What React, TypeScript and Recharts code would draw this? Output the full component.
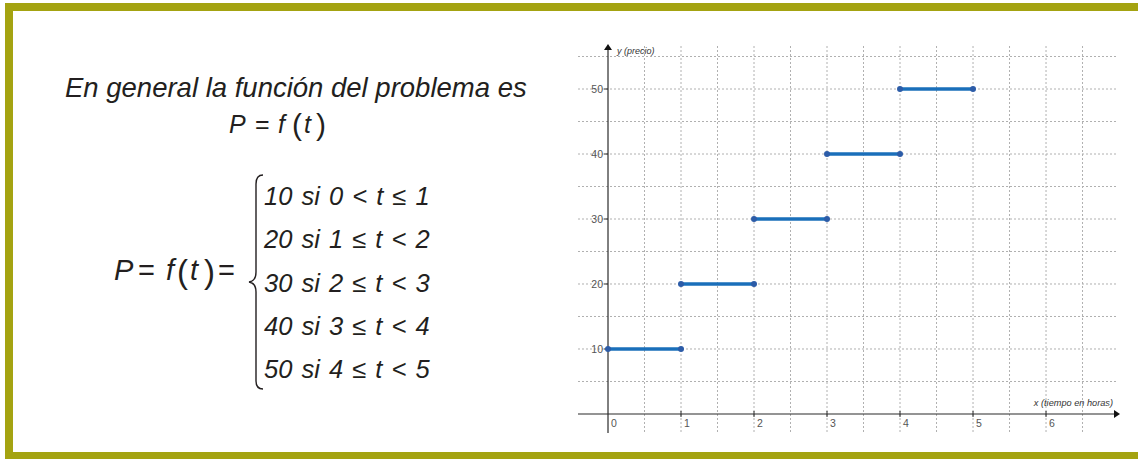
import { ComposedChart, Line, XAxis, YAxis, ReferenceLine, ReferenceDot } from 'recharts';

// piecewise price function P = f(t)
const stepStarts = [0, 1, 2, 3, 4];
const stepEnds = [1, 2, 3, 4, 5];
const prices = [10, 20, 30, 40, 50];

const hourTicks = [0, 1, 2, 3, 4, 5, 6];
const priceTicks = [10, 20, 30, 40, 50];
const gridHours = [0.5, 1, 1.5, 2, 2.5, 3, 3.5, 4, 4.5, 5, 5.5, 6, 6.5];
const gridPrices = [5, 10, 15, 20, 25, 30, 35, 40, 45, 50, 55];

const caseRows = [
  '10 si 0 < t ≤ 1',
  '20 si 1 ≤ t < 2',
  '30 si 2 ≤ t < 3',
  '40 si 3 ≤ t < 4',
  '50 si 4 ≤ t < 5',
];

const OLIVE = '#a4a311';
const INK = '#231f20';
const AXIS = '#2b2b2b';
const GRID = '#b0b0b0';
const SEG = '#1a6fba';
const DOT = '#2c5ca8';
const FONT = '"Liberation Sans", Arial, sans-serif';

const segments = prices.map((p, i) => ({
  key: `s${i}`,
  data: [
    { t: stepStarts[i], p },
    { t: stepEnds[i], p },
  ],
}));

const VerticalAxis = (props: any) => {
  const { x1, y1, y2 } = props;
  const top = Math.min(y1, y2);
  const bottom = Math.max(y1, y2);
  return (
    <g>
      <line x1={x1} y1={top + 4} x2={x1} y2={bottom + 1} stroke={AXIS} strokeWidth={1.2} />
      <polygon points={`${x1 - 4},${top + 5} ${x1 + 4},${top + 5} ${x1},${top - 1}`} fill="#111" />
      <text x={x1 + 9} y={top + 9} fontSize={9} fontStyle="italic" fill="#333" fontFamily={FONT}>
        y (precio)
      </text>
    </g>
  );
};

const HorizontalAxis = (props: any) => {
  const { x1, x2, y1 } = props;
  const left = Math.min(x1, x2);
  const right = Math.max(x1, x2);
  return (
    <g>
      <line x1={left} y1={y1} x2={right - 3} y2={y1} stroke={AXIS} strokeWidth={1.2} />
      <polygon points={`${right - 4},${y1 - 4} ${right - 4},${y1 + 4} ${right + 2},${y1}`} fill="#111" />
      <text x={right - 5} y={y1 - 8} fontSize={9.2} fontStyle="italic" fill="#333" textAnchor="end" fontFamily={FONT}>
        x (tiempo en horas)
      </text>
    </g>
  );
};

const hourMark = (h: number) => (props: any) => {
  const { cx, cy } = props;
  return (
    <g>
      {h !== 0 && <line x1={cx} y1={cy - 3} x2={cx} y2={cy + 3} stroke={AXIS} strokeWidth={1} />}
      <text x={cx + 3} y={cy + 13} fontSize={10.5} fill="#555" fontFamily={FONT}>
        {h}
      </text>
    </g>
  );
};

const priceMark = (v: number) => (props: any) => {
  const { cx, cy } = props;
  return (
    <g>
      <line x1={cx - 4} y1={cy} x2={cx} y2={cy} stroke={AXIS} strokeWidth={1} />
      <text x={cx - 5} y={cy + 4} fontSize={10.5} fill="#555" textAnchor="end" fontFamily={FONT}>
        {v}
      </text>
    </g>
  );
};

function Explanation() {
  const rowBase = [205, 248.3, 291.7, 335, 378.3];
  return (
    <svg width={560} height={459} style={{ position: 'absolute', left: 0, top: 0 }} fontFamily={FONT} fill={INK}>
      <text x={65} y={97} fontSize={27.5} fontStyle="italic">
        En general la función del problema es
      </text>

      <g fontSize={25}>
        <text x={229} y={133} fontStyle="italic">P</text>
        <text x={255} y={133}>=</text>
        <text x={278} y={133} fontStyle="italic">f</text>
        <text x={292} y={135} fontSize={30}>(</text>
        <text x={304} y={133} fontStyle="italic">t</text>
        <text x={316} y={135} fontSize={30}>)</text>
      </g>

      <g fontSize={29}>
        <text x={114} y={280} fontStyle="italic">P</text>
        <text x={138} y={280}>=</text>
        <text x={166} y={280} fontStyle="italic">f</text>
        <text x={177} y={283} fontSize={33}>(</text>
        <text x={190} y={280} fontStyle="italic">t</text>
        <text x={204} y={283} fontSize={33}>)</text>
        <text x={218} y={280}>=</text>
      </g>

      <path
        d="M 263 175 Q 256 175 256 184 L 256 272 Q 256 281 249 282 Q 256 283 256 292 L 256 381 Q 256 389 263 389"
        fill="none"
        stroke={INK}
        strokeWidth={1.4}
      />

      {caseRows.map((r, i) => (
        <text key={r} x={264} y={rowBase[i]} fontSize={25.5} fontStyle="italic" wordSpacing={2} style={{ whiteSpace: 'pre' }}>
          {r}
        </text>
      ))}
    </svg>
  );
}

export default function App() {
  return (
    <div style={{ position: 'absolute', left: 0, top: 0, width: 1138, height: 459, background: '#fff', overflow: 'hidden' }}>
      <div style={{ position: 'absolute', left: 5, top: 3, width: 1133, height: 8, background: OLIVE }} />
      <div style={{ position: 'absolute', left: 5, top: 3, width: 7.5, height: 456, background: OLIVE }} />
      <div style={{ position: 'absolute', left: 5, top: 452, width: 1133, height: 7, background: OLIVE }} />

      <Explanation />

      <div style={{ position: 'absolute', left: 0, top: 0 }}>
        <ComposedChart width={1138} height={459} margin={{ top: 45, right: 20, bottom: 27, left: 578 }}>
          <XAxis type="number" dataKey="t" domain={[-0.411, 6.986]} hide allowDataOverflow />
          <YAxis type="number" dataKey="p" domain={[-2.77, 56.77]} hide allowDataOverflow />
          {gridHours.map((h) => (
            <ReferenceLine key={`gx${h}`} x={h} stroke={GRID} strokeDasharray="2 2" />
          ))}
          {gridPrices.map((v) => (
            <ReferenceLine key={`gy${v}`} y={v} stroke={GRID} strokeDasharray="2 2" />
          ))}
          <ReferenceLine x={0} shape={VerticalAxis} />
          <ReferenceLine y={0} shape={HorizontalAxis} />
          {hourTicks.map((h) => (
            <ReferenceDot key={`h${h}`} x={h} y={0} r={0} shape={hourMark(h)} />
          ))}
          {priceTicks.map((v) => (
            <ReferenceDot key={`p${v}`} x={0} y={v} r={0} shape={priceMark(v)} />
          ))}
          {segments.map((s) => (
            <Line
              key={s.key}
              data={s.data}
              dataKey="p"
              stroke={SEG}
              strokeWidth={3.5}
              dot={{ r: 3, fill: DOT, stroke: DOT, strokeWidth: 0 }}
              activeDot={false}
              isAnimationActive={false}
            />
          ))}
        </ComposedChart>
      </div>
    </div>
  );
}
